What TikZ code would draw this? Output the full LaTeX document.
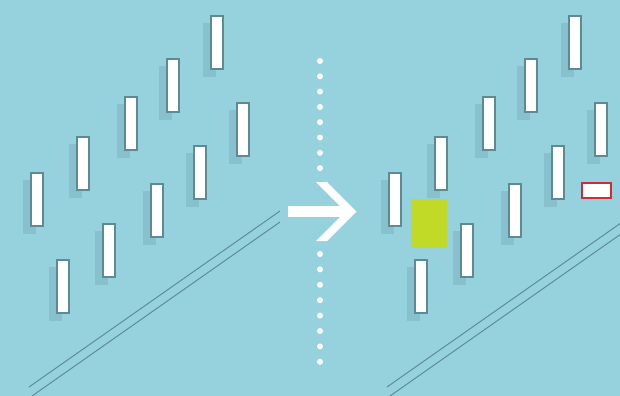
\documentclass[tikz,border=0pt]{standalone}
\usepackage{xcolor}
\definecolor{sky}{HTML}{95D2DE}
\definecolor{skyshade}{HTML}{86C1CD}
\definecolor{barrim}{HTML}{5E8B93}
\definecolor{lime}{HTML}{C0DA27}
\definecolor{alarm}{HTML}{D42A30}
\tikzset{
  bar/.style={fill=white,draw=barrim,line width=1.3pt},
  barshade/.style={fill=skyshade},
  rail/.style={draw=barrim,line width=0.55pt}
}

\begin{document}
\begin{tikzpicture}[x=0.02cm,y=-0.02cm]
  % Backdrop, one pixel = one unit.
  \fill[sky] (0,0) rectangle (620,396);
  \clip (0,0) rectangle (620,396);
  % The same field of bars in both panels (right one is shifted).
  \foreach \dx in {0,358}{
    \foreach \bx/\by in {30/172,76/136,124/96,166/58,210/15,
                         56/259,102/223,150/183,193/145,236/102}{
      \fill[barshade] (\bx+\dx-7,\by+8) rectangle (\bx+\dx+6,\by+62);
      \draw[bar] (\bx+\dx+1.1,\by+1.1) rectangle (\bx+\dx+12.9,\by+53.9);
    }
    % Double rail underneath.
    \draw[rail] (29+\dx,387) -- (280+\dx,211);
    \draw[rail] (32+\dx,396) -- (280+\dx,222);
  }
  % Dotted divider, broken by the arrow.
  \foreach \k in {0,...,7}{
    \fill[white] (320,61+15.3*\k) circle (1.7pt);
    \fill[white] (320,254+15.4*\k) circle (1.7pt);
  }
  % Arrow.
  \fill[white] (288,206) rectangle (346,217);
  \fill[white] (316,182) -- (327,182) -- (356.5,211.5) -- (327,241)
    -- (316,241) -- (345.5,211.5) -- cycle;
  % Changes on the right.
  \fill[lime] (411,199) rectangle (447,248);
  \draw[fill=white,draw=alarm,line width=1.3pt] (582,183) rectangle (611,198);
\end{tikzpicture}
\end{document}
